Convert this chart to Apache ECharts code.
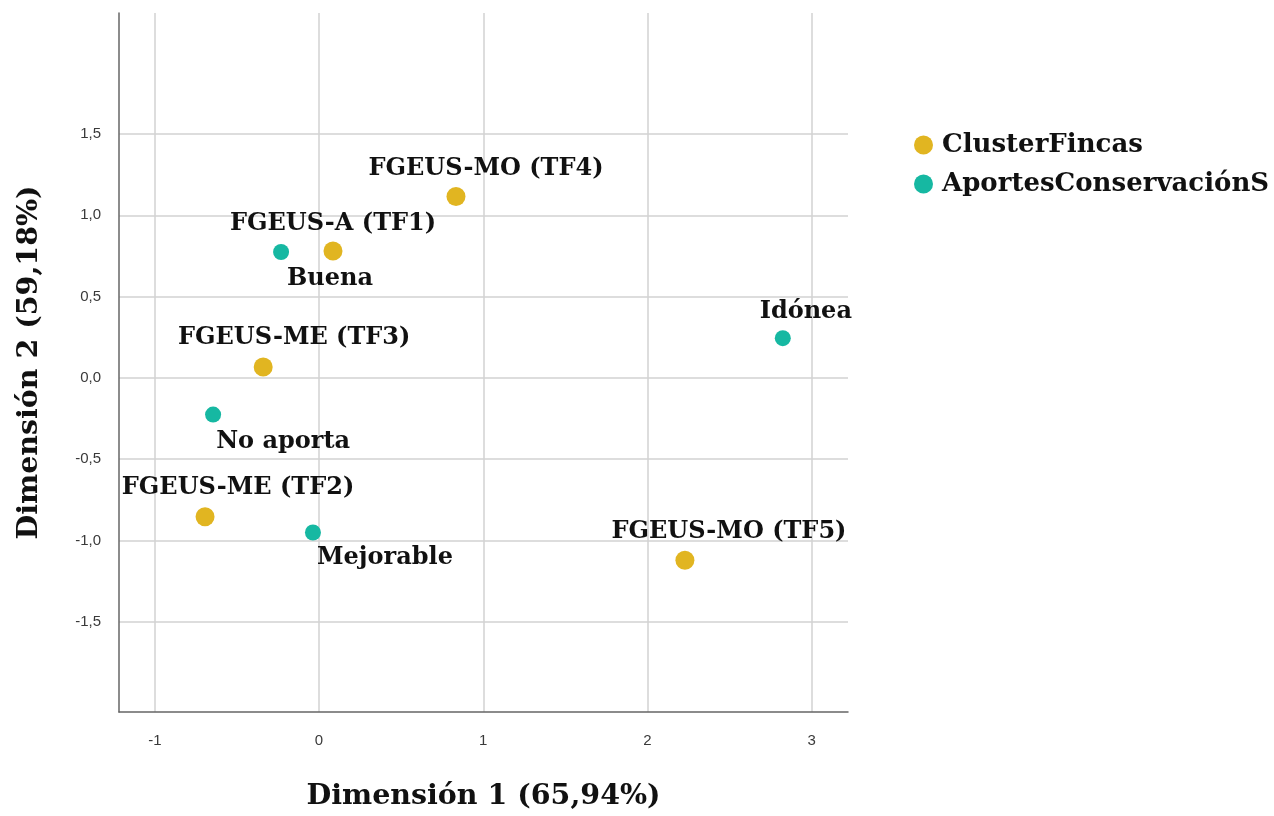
<!DOCTYPE html>
<html>
<head>
<meta charset="utf-8">
<script src="https://cdn.jsdelivr.net/npm/echarts@6/dist/echarts.min.js"></script>
<style>
  html, body { margin: 0; padding: 0; background: #ffffff; }
  #chart { width: 1274px; height: 816px; }
</style>
</head>
<body>
<div id="chart"></div>
<script>
// Category points: ClusterFincas
const clusterNames = ['FGEUS-A (TF1)', 'FGEUS-ME (TF2)', 'FGEUS-ME (TF3)', 'FGEUS-MO (TF4)', 'FGEUS-MO (TF5)'];
const clusterDim1 = [0.085, -0.694, -0.340, 0.834, 2.228];
const clusterDim2 = [0.780, -0.854, 0.067, 1.116, -1.122];

// Category points: AportesConservaciónS
const aportesNames = ['Idónea', 'Buena', 'Mejorable', 'No aporta'];
const aportesDim1 = [2.824, -0.231, -0.037, -0.645];
const aportesDim2 = [0.244, 0.774, -0.951, -0.226];

// Tick values
const xTicks = [-1, 0, 1, 2, 3];
const yTicks = [-1.5, -1.0, -0.5, 0.0, 0.5, 1.0, 1.5];

// Label placement around each point (label centre relative to point centre)
const labelShift = {
  'FGEUS-A (TF1)': [0, -27],
  'FGEUS-ME (TF2)': [33, -29],
  'FGEUS-ME (TF3)': [31, -29],
  'FGEUS-MO (TF4)': [30, -28],
  'FGEUS-MO (TF5)': [44, -29],
  'Idónea': [23, -26],
  'Buena': [49, 27],
  'Mejorable': [72, 25],
  'No aporta': [70, 27]
};

const SERIF = '"DejaVu Serif", "Liberation Serif", serif';
const SANS = '"Liberation Sans", Arial, sans-serif';

function points(names, xs, ys) {
  return names.map((n, i) => ({
    name: n,
    value: [xs[i], ys[i]],
    label: { offset: labelShift[n] || [0, 0] }
  }));
}

const labelStyle = {
  show: true,
  position: 'inside',
  align: 'center',
  verticalAlign: 'middle',
  formatter: p => p.name,
  fontFamily: SERIF,
  fontWeight: 'bold',
  fontSize: 24,
  color: '#111111'
};

const chart = echarts.init(document.getElementById('chart'), null, { renderer: 'canvas' });

chart.setOption({
  animation: false,
  backgroundColor: '#ffffff',
  grid: { left: 119, right: 426, top: 13, bottom: 97, containLabel: false },
  legend: {
    left: 909,
    top: 127,
    orient: 'vertical',
    icon: 'circle',
    itemWidth: 19,
    itemHeight: 19,
    itemGap: 13,
    textStyle: { fontFamily: SERIF, fontWeight: 'bold', fontSize: 26, color: '#111111', padding: [0, 0, 0, 4] },
    data: ['ClusterFincas', 'AportesConservaciónS']
  },
  xAxis: {
    type: 'value',
    min: -1.218,
    max: 3.221,
    name: 'Dimensión 1 (65,94%)',
    nameLocation: 'middle',
    nameGap: 70,
    nameTextStyle: { fontFamily: SERIF, fontWeight: 'bold', fontSize: 28.5, color: '#111111' },
    axisLine: { show: true, onZero: false, lineStyle: { color: '#666666', width: 1.5 } },
    axisTick: { show: false, customValues: xTicks },
    axisLabel: {
      customValues: xTicks,
      margin: 21,
      fontFamily: SANS,
      fontSize: 15,
      color: '#3a3a3a',
      formatter: v => String(v)
    },
    splitLine: { show: true, lineStyle: { color: '#d2d2d2', width: 1.5 } }
  },
  yAxis: {
    type: 'value',
    min: -2.055,
    max: 2.244,
    name: 'Dimensión 2 (59,18%)',
    nameLocation: 'middle',
    nameGap: 75,
    nameRotate: 90,
    nameTextStyle: { fontFamily: SERIF, fontWeight: 'bold', fontSize: 28.5, color: '#111111' },
    axisLine: { show: true, onZero: false, lineStyle: { color: '#666666', width: 1.5 } },
    axisTick: { show: false, customValues: yTicks },
    axisLabel: {
      customValues: yTicks,
      margin: 18,
      fontFamily: SANS,
      fontSize: 15,
      color: '#3a3a3a',
      formatter: v => v.toFixed(1).replace('.', ',')
    },
    splitLine: { show: true, lineStyle: { color: '#d2d2d2', width: 1.5 } }
  },
  series: [
    {
      name: 'ClusterFincas',
      type: 'scatter',
      symbol: 'circle',
      symbolSize: 19,
      itemStyle: { color: '#E1B521', opacity: 1 },
      label: labelStyle,
      data: points(clusterNames, clusterDim1, clusterDim2),
      z: 3
    },
    {
      name: 'AportesConservaciónS',
      type: 'scatter',
      symbol: 'circle',
      symbolSize: 16,
      itemStyle: { color: '#16B8A2', opacity: 1 },
      label: labelStyle,
      data: points(aportesNames, aportesDim1, aportesDim2),
      z: 4
    }
  ]
});
</script>
</body>
</html>
